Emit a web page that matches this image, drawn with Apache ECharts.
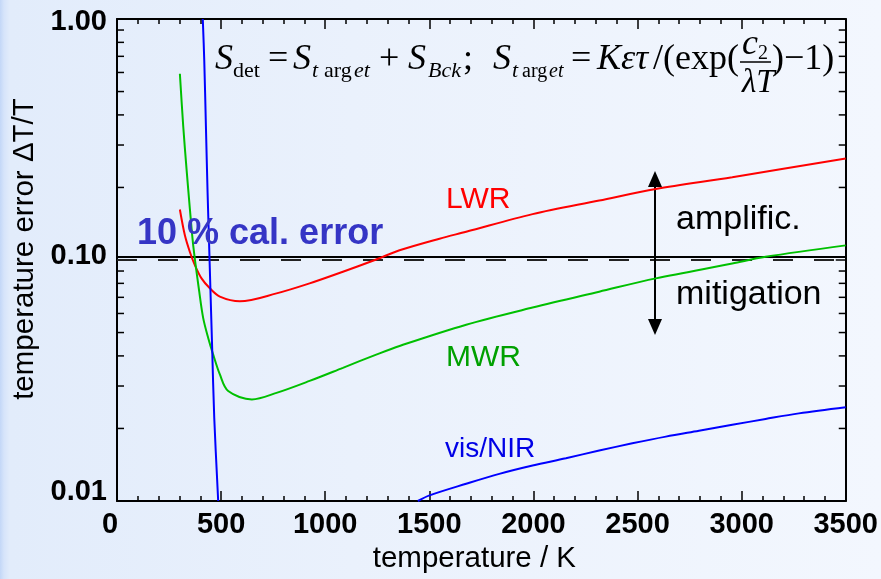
<!DOCTYPE html>
<html>
<head>
<meta charset="utf-8">
<script src="https://cdn.jsdelivr.net/npm/echarts@6/dist/echarts.min.js"></script>
<style>
  html, body { margin: 0; padding: 0; }
  body {
    width: 881px; height: 579px; overflow: hidden;
    background: linear-gradient(to right, #c3d7f7 0px, #d6e4fa 4px, #e2ecfb 10px, #eaf1fc 40%, #f3f7fe 100%);
  }
  #chart { width: 881px; height: 579px; }
</style>
</head>
<body>
<div id="chart"></div>
<script>
// Relative temperature error dT/T versus target temperature for three spectral bands.

// LWR band
const lwrTemp = [302, 326, 350, 374, 406, 446, 494, 590, 766, 925, 1085, 1245, 1357, 1549, 1677, 1996, 2316, 2588, 2955, 3500];
const lwrErr  = [0.162, 0.1266, 0.108, 0.0952, 0.0839, 0.0763, 0.0705, 0.0674, 0.0727, 0.080, 0.0894, 0.1005, 0.1097, 0.1226, 0.131, 0.155, 0.1765, 0.197, 0.2205, 0.264];

// MWR band
const mwrTemp = [302, 318, 334, 350, 366, 395, 414, 438, 462, 494, 534, 648, 766, 925, 1085, 1245, 1357, 1677, 1996, 2316, 2588, 2955, 3115, 3500];
const mwrErr  = [0.593, 0.3597, 0.2384, 0.1631, 0.1151, 0.0739, 0.0574, 0.0475, 0.0405, 0.0335, 0.0286, 0.0264, 0.0281, 0.0315, 0.0357, 0.0405, 0.0440, 0.0539, 0.0635, 0.0739, 0.0839, 0.0967, 0.1031, 0.115];

// vis/NIR band: steep low-temperature branch and high-temperature branch
const visLowTemp  = [412, 419, 427, 435, 442.5, 449, 457, 467, 486];
const visLowErr   = [1.0, 0.678, 0.36, 0.191, 0.115, 0.0739, 0.0432, 0.0222, 0.01];
const visHighTemp = [1445, 1501, 1677, 1836, 1996, 2156, 2316, 2475, 2636, 2795, 2955, 3115, 3275, 3500];
const visHighErr  = [0.01, 0.01055, 0.01179, 0.01296, 0.01403, 0.01504, 0.0162, 0.01735, 0.0185, 0.01956, 0.0207, 0.0219, 0.0231, 0.0245];

// axes
const tempRange = [0, 3500];
const tempStep = 500;
const errRange = [0.01, 1];
const errTickLabels = { '-2': '0.01', '-1': '0.10', '0': '1.00' };
const errMinorTicks = [0.02, 0.03, 0.04, 0.05, 0.06, 0.07, 0.08, 0.09, 0.2, 0.3, 0.4, 0.5, 0.6, 0.7, 0.8, 0.9];

// reference levels and the amplification / mitigation arrow
const calErrorLevel = 0.1;
const refLineLevel = 0.103;
const arrowTemp = 2584;
const arrowEnds = [0.217, 0.0527];

const pairs = (xs, ys) => xs.map((x, i) => [x, ys[i]]);

const SANS = '"Liberation Sans", Arial, sans-serif';
const SERIF = '"Liberation Serif", "Times New Roman", serif';

function txt(text, x, y, font, fill) {
  return {
    type: 'text', x: x, y: y, silent: true, z: 50,
    style: { text: text, font: font, fill: fill || '#000',
             align: 'left', verticalAlign: 'middle',
             textAlign: 'left', textVerticalAlign: 'middle' }
  };
}

// formula pieces: [text, left, baseline, font]
const mainBase = 72, subBase = 79;
const fMain = '36px ' + SERIF, fMainI = 'italic 36px ' + SERIF;
const fSub = '22px ' + SERIF, fSubI = 'italic 22px ' + SERIF;
const formula = [
  ['S', 215, mainBase, fMainI], ['det', 233, subBase, fSub],
  ['=', 268, mainBase, fMain],
  ['S', 293, mainBase, fMainI], ['t', 312, subBase, fSubI], ['arg', 324, subBase, fSub], ['et', 354, subBase, fSubI],
  ['+', 379, mainBase, fMain],
  ['S', 408, mainBase, fMainI], ['Bck', 428, subBase, fSubI],
  [';', 463, mainBase, fMain],
  ['S', 493, mainBase, fMainI], ['t', 512, subBase, fSubI], ['arg', 522, subBase, '20px ' + SERIF], ['et', 549, subBase, 'italic 20px ' + SERIF],
  ['=', 571, mainBase, fMain],
  ['K\u03B5\u03C4', 597, mainBase, fMainI],
  ['/(exp(', 653, mainBase, fMain],
  ['c', 742, 57, fMainI], ['2', 758, 61, '20px ' + SERIF],
  ['\u03BBT', 742, 95, 'italic 33px ' + SERIF],
  [')\u22121)', 772, mainBase, fMain]
];
const formulaEls = formula.map(([t, x, b, f]) => {
  const size = parseFloat(f.match(/(\d+)px/)[1]);
  return txt(t, x, b - 0.34 * size, f, '#000');
});
formulaEls.push({
  type: 'line', silent: true, z: 50,
  shape: { x1: 740, y1: 62, x2: 771, y2: 62 },
  style: { stroke: '#000', lineWidth: 1.5 }
});

const annotations = [
  txt('LWR', 446, 199.5, '30px ' + SANS, '#ff0000'),
  txt('MWR', 446, 358, '30px ' + SANS, '#00a000'),
  txt('vis/NIR', 445, 449, '28px ' + SANS, '#0000e6'),
  txt('10 % cal. error', 137, 234.5, 'bold 36px ' + SANS, '#3535c5'),
  txt('amplific.', 676, 220, '34px ' + SANS, '#000'),
  txt('mitigation', 676, 295, '34px ' + SANS, '#000')
];

const axisLineStyle = { color: '#000', width: 2 };
const tickStyle = { color: '#000', width: 1.5 };

function tempAxis(pos, withLabels) {
  return {
    type: 'value', position: pos, min: tempRange[0], max: tempRange[1], interval: tempStep,
    axisLine: { show: true, onZero: false, lineStyle: axisLineStyle },
    axisTick: { show: true, inside: true, length: 10, lineStyle: tickStyle },
    minorTick: { show: true, splitNumber: 5, length: 5, lineStyle: tickStyle },
    splitLine: { show: false }, minorSplitLine: { show: false },
    axisLabel: withLabels ? {
      show: true, margin: 9, color: '#000', fontSize: 29, fontWeight: 'bold', fontFamily: SANS,
      formatter: v => v === 0 ? '{z|0}' : String(v),
      rich: { z: { fontSize: 29, fontWeight: 'bold', fontFamily: SANS, color: '#000', padding: [0, 14, 0, 0] } }
    } : { show: false },
    name: withLabels ? 'temperature / K' : '',
    nameLocation: 'middle', nameGap: 43,
    nameTextStyle: { fontSize: 29.5, fontFamily: SANS, color: '#000', padding: [0, 14, 0, 0] }
  };
}

const richBase = { fontSize: 29, fontWeight: 'bold', fontFamily: SANS, color: '#000' };
const labelRich = {
  t: Object.assign({ padding: [6, 0, 0, 0] }, richBase),
  m: Object.assign({ padding: [0, 0, 8, 0] }, richBase),
  b: Object.assign({ padding: [0, 0, 18, 0] }, richBase)
};

function errAxis(pos, withLabels) {
  return {
    type: 'log', logBase: 10, position: pos, min: errRange[0], max: errRange[1],
    axisLine: { show: true, onZero: false, lineStyle: axisLineStyle },
    axisTick: { show: true, inside: true, length: 10, lineStyle: tickStyle },
    splitLine: { show: false },
    axisLabel: withLabels ? {
      show: true, margin: 10, color: '#000', fontSize: 29, fontWeight: 'bold', fontFamily: SANS,
      formatter: v => {
        const k = String(Math.round(Math.log10(v)));
        const s = errTickLabels[k];
        return k === '0' ? '{t|' + s + '}' : k === '-1' ? '{m|' + s + '}' : '{b|' + s + '}';
      },
      rich: labelRich
    } : { show: false },
    name: withLabels ? 'temperature error \u0394T/T' : '',
    nameLocation: 'middle', nameRotate: 90, nameGap: 74,
    nameTextStyle: { fontSize: 29.5, fontFamily: SANS, color: '#000', padding: [0, 0, 0, 22] }
  };
}

const lineSeries = (name, data, color) => ({
  name: name, type: 'line', data: data, xAxisIndex: 0, yAxisIndex: 0,
  showSymbol: false, symbol: 'none', smooth: 0.33,
  clip: true, silent: true, z: 5,
  lineStyle: { color: color, width: 2 }, itemStyle: { color: color }
});

// horizontal level across the whole temperature range
const levelSeries = (level, lineStyle) => ({
  type: 'line', xAxisIndex: 0, yAxisIndex: 0, silent: true, z: 3,
  showSymbol: false, symbol: 'none',
  data: [[tempRange[0], level], [tempRange[1], level]],
  lineStyle: lineStyle
});

const chart = echarts.init(document.getElementById('chart'), null, { renderer: 'canvas' });
chart.setOption({
  animation: false,
  backgroundColor: 'transparent',
  grid: { left: 117, right: 34, top: 19, bottom: 75, containLabel: false },
  xAxis: [tempAxis('bottom', true), tempAxis('top', false)],
  yAxis: [errAxis('left', true), errAxis('right', false)],
  series: [
    levelSeries(calErrorLevel, { color: '#222', width: 2, type: [20, 21] }),
    levelSeries(refLineLevel, { color: '#000', width: 2, type: 'solid' }),
    {
      type: 'line', data: [], xAxisIndex: 0, yAxisIndex: 0, silent: true, z: 3,
      markLine: {
        silent: true, label: { show: false }, animation: false,
        symbol: ['triangle', 'triangle'], symbolSize: [14, 16],
        lineStyle: { color: '#000', width: 2, type: 'solid' },
        itemStyle: { color: '#000' },
        data: [[{ coord: [arrowTemp, arrowEnds[0]] }, { coord: [arrowTemp, arrowEnds[1]] }]]
      }
    },
    lineSeries('LWR', pairs(lwrTemp, lwrErr), '#ff0000'),
    lineSeries('MWR', pairs(mwrTemp, mwrErr), '#00c000'),
    lineSeries('vis/NIR', pairs(visLowTemp, visLowErr), '#0000ff'),
    lineSeries('vis/NIR', pairs(visHighTemp, visHighErr), '#0000ff'),
    // minor log ticks on the left and right frame
    {
      type: 'custom', xAxisIndex: 0, yAxisIndex: 0, silent: true, clip: false, z: 4,
      data: errMinorTicks.map(v => [tempRange[0], v]),
      renderItem: (params, api) => {
        const v = api.value(1);
        const l = api.coord([tempRange[0], v]);
        const r = api.coord([tempRange[1], v]);
        return {
          type: 'group',
          children: [
            { type: 'line', shape: { x1: l[0], y1: l[1], x2: l[0] + 7, y2: l[1] }, style: { stroke: '#000', lineWidth: 1.5 } },
            { type: 'line', shape: { x1: r[0] - 7, y1: r[1], x2: r[0], y2: r[1] }, style: { stroke: '#000', lineWidth: 1.5 } }
          ]
        };
      }
    }
  ],
  graphic: { elements: formulaEls.concat(annotations) }
});
</script>
</body>
</html>
